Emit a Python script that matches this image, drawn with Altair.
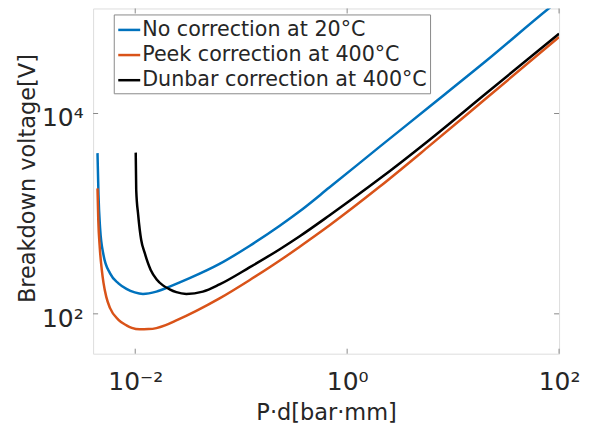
import math
import altair as alt
import pandas as pd

# ---- data (P·d in bar·mm, breakdown voltage in V) ----
SERIES = ["No correction at 20°C", "Peek correction at 400°C", "Dunbar correction at 400°C"]
COLORS = ["#0072BD", "#D95319", "#000000"]

blue_pd = [0.004406, 0.004502, 0.004661, 0.005020, 0.005789, 0.006945, 0.008263, 0.009892,
           0.01184, 0.01584, 0.02113, 0.03260, 0.06248, 0.1197, 0.2294, 0.3540, 0.6784,
           2.006, 5.931, 20.28, 89.13, 100]
blue_v = [4021, 1534, 719, 387, 253.3, 201.4, 177.5, 163.8,
          158.2, 166.8, 187.1, 226.9, 315.0, 476.0, 753.1, 1050.6, 1822,
          4615, 11610, 33200, 122800, 135200]

peek_pd = [0.004406, 0.004482, 0.004631, 0.004837, 0.005020, 0.005331, 0.005789, 0.006945,
           0.008263, 0.009268, 0.01102, 0.01331, 0.01584, 0.01938, 0.02443, 0.03770,
           0.06248, 0.1197, 0.2653, 0.3540, 0.6784, 2.006, 5.931, 20.28, 100]
peek_v = [1789, 864.5, 454.7, 274.5, 203.7, 147.7, 114.0, 87.15,
          76.81, 72.54, 70.08, 70.41, 72.05, 77.16, 85.96, 107.1,
          142.7, 216.7, 375.8, 465.3, 761.8, 1843, 4722, 14050, 57990]

dunbar_pd = [0.01011, 0.01022, 0.01067, 0.01139, 0.01229, 0.01400, 0.01594, 0.01827,
             0.02113, 0.02443, 0.03035, 0.04349, 0.06248, 0.1197, 0.2294, 0.3540,
             0.6784, 2.006, 5.931, 20.28, 100]
dunbar_v = [4068, 1720, 969.4, 546.3, 405.4, 274.5, 220.7, 192.3,
            175.5, 164.5, 158.2, 166.8, 196.8, 290.7, 439.3, 591.9,
            958.5, 2214, 5418, 15750, 62690]

X_TICKS = [0.01, 1, 100]
X_TICK_LABELS = ["10⁻²", "10⁰", "10²"]
Y_TICKS = [100, 10000]
Y_TICK_LABELS = ["10²", "10⁴"]

X_DOMAIN = [0.004005, 100]
Y_DOMAIN = [40, 111900]

rows = []
for name, xs, ys in zip(SERIES, [blue_pd, peek_pd, dunbar_pd], [blue_v, peek_v, dunbar_v]):
    for i, (a, b) in enumerate(zip(xs, ys)):
        rows.append({"series": name, "pd": a, "v": b, "order": i})
df = pd.DataFrame(rows)

W, H = 467, 346
FONT = "DejaVu Sans"
TXT = "#262626"
FRAME = "#8a8a8a"


def label_expr(ticks, labels):
    parts = []
    for t, l in zip(ticks, labels):
        parts.append(f"abs(log(datum.value)/log(10) - ({math.log10(t)})) < 0.01 ? '{l}' : ")
    return "".join(parts) + "''"


xscale = alt.Scale(type="log", domain=X_DOMAIN, nice=False)
yscale = alt.Scale(type="log", domain=Y_DOMAIN, nice=False)

x_axis = alt.Axis(values=X_TICKS, labelExpr=label_expr(X_TICKS, X_TICK_LABELS),
                  title="P·d[bar·mm]", grid=False, ticks=False, domain=False,
                  labelFont=FONT, labelFontSize=25, labelColor=TXT,
                  labelPadding=36, labelBaseline="alphabetic", labelFlush=False,
                  titleFont=FONT, titleFontSize=22.5, titleColor=TXT,
                  titleFontWeight="normal", titleX=W / 2, titleY=66,
                  titleAlign="center", titleBaseline="alphabetic")
y_axis = alt.Axis(values=Y_TICKS, labelExpr=label_expr(Y_TICKS, Y_TICK_LABELS),
                  title="Breakdown voltage[V]", grid=False, ticks=False, domain=False,
                  labelFont=FONT, labelFontSize=25, labelColor=TXT,
                  labelPadding=10, labelBaseline="alphabetic", labelOffset=12.4,
                  labelAlign="right", labelFlush=False,
                  titleFont=FONT, titleFontSize=22.5, titleColor=TXT,
                  titleFontWeight="normal", titleX=-58.3, titleY=170,
                  titleAngle=270, titleAlign="center", titleBaseline="alphabetic")

lines = alt.Chart(df).mark_line(clip=True, strokeWidth=2.5, interpolate="monotone").encode(
    x=alt.X("pd:Q", scale=xscale, axis=x_axis),
    y=alt.Y("v:Q", scale=yscale, axis=y_axis),
    color=alt.Color("series:N", scale=alt.Scale(domain=SERIES, range=COLORS),
                    legend=alt.Legend(title=None, orient="none", legendX=20.7, legendY=6,
                                      symbolType="stroke", symbolSize=484, symbolStrokeWidth=2.5,
                                      labelFont=FONT, labelFontSize=20.7, labelColor=TXT,
                                      labelOffset=0.5, labelLimit=500, rowPadding=2.2,
                                      padding=3, strokeColor=FRAME, fillColor="white")),
    order="order:Q",
)

xt = pd.DataFrame({"pd": X_TICKS})
yt = pd.DataFrame({"v": Y_TICKS})

xt_bottom = alt.Chart(xt).mark_rule(color=FRAME, strokeWidth=1).encode(
    x=alt.X("pd:Q", scale=xscale), y=alt.value(H), y2=alt.value(H - 5))
xt_top = alt.Chart(xt).mark_rule(color=FRAME, strokeWidth=1).encode(
    x=alt.X("pd:Q", scale=xscale), y=alt.value(0), y2=alt.value(5))
yt_left = alt.Chart(yt).mark_rule(color=FRAME, strokeWidth=1).encode(
    y=alt.Y("v:Q", scale=yscale), x=alt.value(0), x2=alt.value(5))
yt_right = alt.Chart(yt).mark_rule(color=FRAME, strokeWidth=1).encode(
    y=alt.Y("v:Q", scale=yscale), x=alt.value(W), x2=alt.value(W - 5))

chart = alt.layer(lines, xt_bottom, xt_top, yt_left, yt_right).properties(
    width=W, height=H,
    autosize=alt.AutoSizeParams(type="none"),
    padding={"left": 85.3, "top": 0, "right": 31, "bottom": 70},
).configure_view(stroke=FRAME, strokeWidth=1).configure(background="white")

chart.save("out.html", embed_options={"renderer": "svg", "actions": False})
